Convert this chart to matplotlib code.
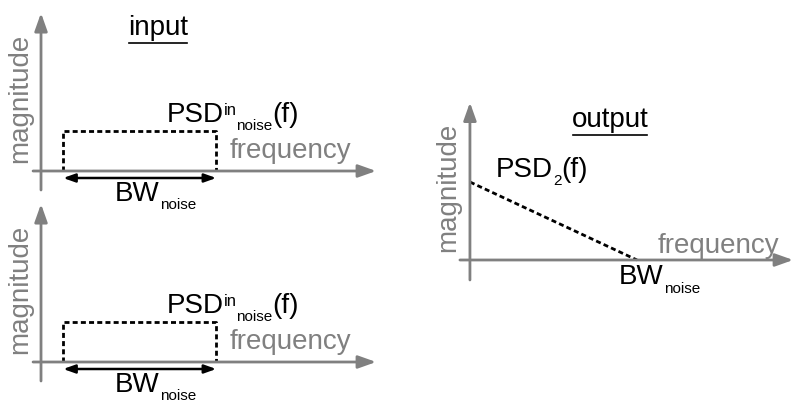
import matplotlib

matplotlib.use("Agg")
import matplotlib.pyplot as plt
from matplotlib.lines import Line2D

plt.rcParams["font.family"] = ["Liberation Sans", "DejaVu Sans"]
plt.rcParams["lines.scale_dashes"] = False

# spectra in units of the noise bandwidth (x) and input PSD level (y)
bw_noise = 1.0
in_freq = [0.145, 0.145, 1.145, 1.145]
in_psd = [0.0, 1.0, 1.0, 0.0]
out_freq = [0.0, 1.0]
out_psd = [1.0, 0.0]

GRAY = "#808080"
FS = 20
SUB = 11

fig = plt.figure(figsize=(7.94, 4.03), dpi=100)
renderer = fig.canvas.get_renderer()


def rich_label(ax, x, y, pieces):
    # pieces: (text, fontsize, baseline shift in points), laid out left to right
    dx = 0.0
    for text, size, dy in pieces:
        t = ax.annotate(text, xy=(x, y), xytext=(dx, dy),
                        textcoords="offset points", fontsize=size,
                        ha="left", va="baseline", annotation_clip=False)
        dx += t.get_window_extent(renderer).width * 72 / fig.dpi


def axis_arrows(ax, x_span, y_span):
    style = "-|>,head_length=0.9,head_width=0.32"
    ax.annotate("", xy=(x_span[1], 0), xytext=(x_span[0], 0),
                arrowprops=dict(arrowstyle=style, color=GRAY, lw=2.0,
                                mutation_scale=12, shrinkA=0, shrinkB=0))
    ax.annotate("", xy=(0, y_span[1]), xytext=(0, y_span[0]),
                arrowprops=dict(arrowstyle=style, color=GRAY, lw=2.0,
                                mutation_scale=12, shrinkA=0, shrinkB=0))


def input_panel(ax):
    ax.set_xlim(-0.268, 2.346)
    ax.set_ylim(-0.725, 4.275)
    ax.axis("off")
    axis_arrows(ax, (-0.052, 2.19), (-0.475, 3.95))
    ax.plot(in_freq, in_psd, color="black", lw=2.0, ls=(0, (3.6, 2.3)),
            solid_capstyle="butt", dash_capstyle="butt")
    ax.annotate("", xy=(in_freq[0], -0.175), xytext=(in_freq[-1], -0.175),
                arrowprops=dict(arrowstyle="<|-|>,head_length=0.7,head_width=0.25",
                                color="black", lw=1.8, mutation_scale=10,
                                shrinkA=0, shrinkB=0))
    rich_label(ax, 0.82, 1.22, [("PSD", FS, 0), ("in", 12, 5.0),
                                ("noise", SUB, -5.8), ("(f)", FS, 0)])
    ax.text(1.235, 0.325, "frequency", color=GRAY, fontsize=FS,
            ha="left", va="baseline")
    ax.text(-0.137, 1.825, "magnitude", color=GRAY, fontsize=FS,
            rotation=90, ha="center", va="center")
    rich_label(ax, 0.484, -0.75, [("BW", FS, 0), ("noise", SUB, -5.6)])


ax_top = fig.add_axes([0, 203 / 403, 400 / 794, 200 / 403])
ax_bot = fig.add_axes([0, 12 / 403, 400 / 794, 200 / 403])
ax_out = fig.add_axes([420 / 794, 103 / 403, 374 / 794, 220 / 403])

input_panel(ax_top)
input_panel(ax_bot)
title_in = ax_top.text(0.765, 3.4, "input", fontsize=FS, ha="center",
                       va="baseline")

ax_out.set_xlim(-0.299, 1.940)
ax_out.set_ylim(-0.513, 2.308)
ax_out.axis("off")
axis_arrows(ax_out, (-0.06, 1.935), (-0.256, 2.02))
ax_out.plot(out_freq, out_psd, color="black", lw=2.0, ls=(0, (3.6, 2.3)))
title_out = ax_out.text(0.838, 1.705, "output", fontsize=FS, ha="center",
                        va="baseline")
rich_label(ax_out, 0.156, 1.064, [("PSD", FS, 0), ("2", SUB, -6.0),
                                  ("(f)", FS, 0)])
ax_out.text(1.126, 0.09, "frequency", color=GRAY, fontsize=FS,
            ha="left", va="baseline")
ax_out.text(-0.132, 0.936, "magnitude", color=GRAY, fontsize=FS,
            rotation=90, ha="center", va="center")
rich_label(ax_out, 0.892, -0.308, [("BW", FS, 0), ("noise", SUB, -6.3)])

# underline the panel titles
fig.canvas.draw()
for title in (title_in, title_out):
    box = title.get_window_extent(renderer)
    y = box.y0 - 1.5
    fig.add_artist(Line2D([box.x0 + 1, box.x1 - 1], [y, y], color="black",
                          lw=1.2, transform=None))

fig.savefig("out.png", dpi=100)
plt.close(fig)
